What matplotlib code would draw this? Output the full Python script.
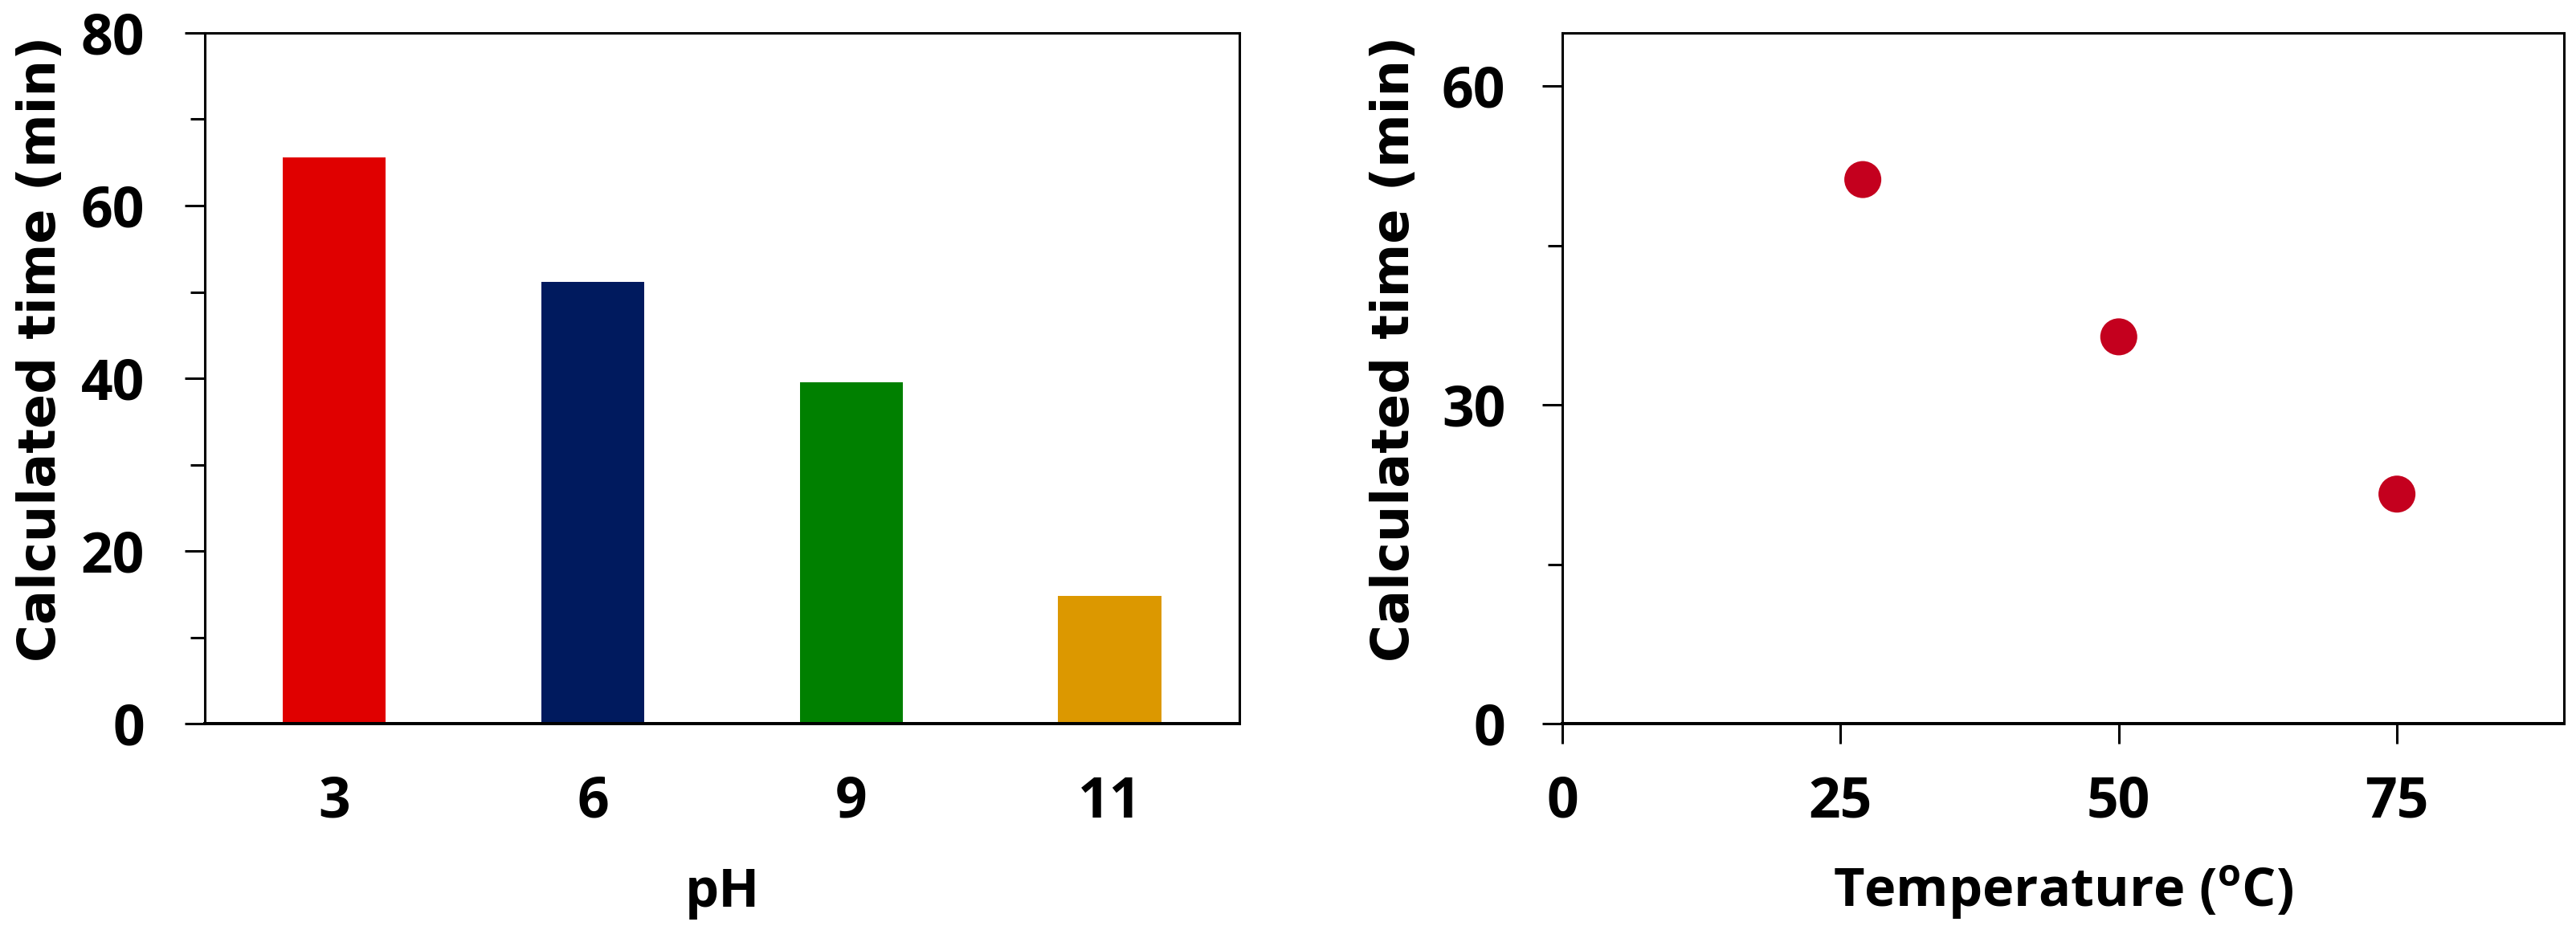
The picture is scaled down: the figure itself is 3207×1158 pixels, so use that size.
import matplotlib
matplotlib.use("Agg")
import matplotlib.pyplot as plt
from matplotlib.ticker import MultipleLocator

# ---- data ----
ph_labels = ["3", "6", "9", "11"]
ph_times = [65.6, 51.2, 39.5, 14.8]
bar_colors = ["#E00000", "#001A5E", "#008000", "#DC9800"]

temps = [27, 50, 75]
temp_times = [51.2, 36.4, 21.6]
point_color = "#C4001E"

ylabel_text = "Calculated time (min)"

plt.rcParams["mathtext.default"] = "regular"
TICKFONT = dict(family="Open Sans", weight="bold", size=50)
LABFONT = dict(family="Open Sans", weight="bold", size=48)
YLABFONT = dict(family="DejaVu Sans", weight="bold", size=46)

fig = plt.figure(figsize=(32.07, 11.58), dpi=100)
ax1 = fig.add_axes([0.0795, 0.2219, 0.4016, 0.7427])
ax2 = fig.add_axes([0.6065, 0.2219, 0.3888, 0.7427])

lw = 2.2

# ---- left: bars ----
x = list(range(len(ph_labels)))
ax1.bar(x, ph_times, width=0.4, color=bar_colors, zorder=2)
ax1.set_xlim(-0.5, 3.5)
ax1.set_ylim(0, 80)
ax1.set_xticks(x)
ax1.set_xticklabels(ph_labels, fontdict=TICKFONT)
ax1.set_yticks([0, 20, 40, 60, 80])
ax1.set_yticklabels(["0", "20", "40", "60", "80"], fontdict=TICKFONT)
ax1.yaxis.set_minor_locator(MultipleLocator(10))
ax1.tick_params(axis="x", length=0, pad=46)
ax1.tick_params(axis="y", which="major", length=18, width=lw, pad=36, direction="out")
ax1.tick_params(axis="y", which="minor", length=13, width=lw, direction="out")
ax1.set_xlabel("pH", fontdict=LABFONT, va="center", ha="center")
ax1.xaxis.set_label_coords(0.5, -0.245)
ax1.set_ylabel(ylabel_text, fontdict=YLABFONT, va="center", ha="center")
ax1.yaxis.set_label_coords(-0.158, 0.543)

# ---- right: scatter ----
ax2.scatter(temps, temp_times, s=1100, color=point_color, edgecolors="none", zorder=3)
ax2.set_xlim(0, 90)
ax2.set_ylim(0, 65)
ax2.set_xticks([0, 25, 50, 75])
ax2.set_xticklabels(["0", "25", "50", "75"], fontdict=TICKFONT)
ax2.set_yticks([0, 30, 60])
ax2.set_yticklabels(["0", "30", "60"], fontdict=TICKFONT)
ax2.yaxis.set_minor_locator(MultipleLocator(15))
ax2.tick_params(axis="x", which="major", length=18, width=lw, pad=28, direction="out")
ax2.tick_params(axis="y", which="major", length=18, width=lw, pad=33, direction="out")
ax2.tick_params(axis="y", which="minor", length=13, width=lw, direction="out")
ax2.set_xlabel(r"Temperature ($^{o}$C)", fontdict=LABFONT, va="center", ha="center")
ax2.xaxis.set_label_coords(0.5, -0.245)
ax2.set_ylabel(ylabel_text, fontdict=YLABFONT, va="center", ha="center")
ax2.yaxis.set_label_coords(-0.168, 0.543)

for ax in (ax1, ax2):
    for sp in ax.spines.values():
        sp.set_linewidth(lw)
        sp.set_color("black")
    ax.spines["bottom"].set_linewidth(lw * 1.3)

fig.savefig("out.png", dpi=100)
